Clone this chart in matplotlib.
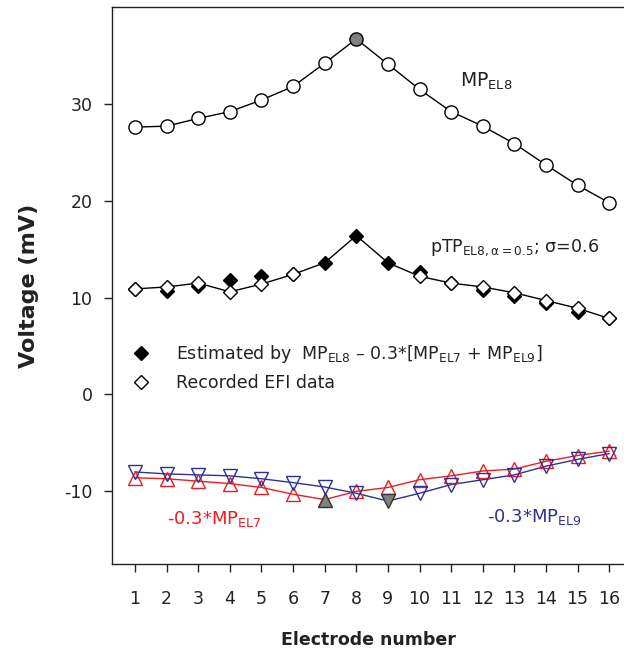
import matplotlib
matplotlib.use("Agg")
import matplotlib.pyplot as plt
import numpy as np

plt.rcParams['font.family'] = ['DejaVu Sans']
plt.rcParams['mathtext.fontset'] = 'dejavusans'
plt.rcParams['axes.unicode_minus'] = False

electrodes = list(range(1, 17))
mp_el8 = [27.6, 27.7, 28.5, 29.2, 30.4, 31.8, 34.2, 36.7, 34.1, 31.5, 29.2, 27.7, 25.9, 23.7, 21.6, 19.8]
estimated = [10.9, 10.7, 11.2, 11.8, 12.2, 12.4, 13.6, 16.4, 13.6, 12.6, 11.5, 10.8, 10.2, 9.4, 8.5, 7.85]
recorded = [10.9, 11.1, 11.5, 10.6, 11.4, 12.4, np.nan, np.nan, np.nan, 12.2, 11.5, 11.1, 10.5, 9.7, 8.9, 7.85]
mp_el7_scaled = [-8.6, -8.7, -8.95, -9.2, -9.6, -10.3, -10.85, -10.0, -9.6, -8.8, -8.4, -7.9, -7.7, -6.9, -6.3, -5.85]
mp_el9_scaled = [-8.0, -8.2, -8.3, -8.4, -8.7, -9.1, -9.55, -10.2, -11.0, -10.2, -9.3, -8.8, -8.3, -7.4, -6.7, -6.1]
yticks = [-10, 0, 10, 20, 30]

RED = '#ED1C24'
BLUE = '#2E3192'
GRAY = '#808080'
INK = '#222222'

fig = plt.figure(figsize=(6.24, 6.51), dpi=100)
ax = fig.add_axes([112/624, 87/651, 1 - 112/624, (564-7)/651])

x = np.array(electrodes)
rec = np.array(recorded)
est = np.array(estimated)
line_vals = np.where(np.isnan(rec), est, rec)

# MP EL8
ax.plot(x, mp_el8, '-', color='black', lw=1.0, zorder=2)
face8 = ['white'] * 16
face8[7] = GRAY
for xi, yi, fc in zip(x, mp_el8, face8):
    ax.plot(xi, yi, 'o', ms=9.5, mfc=fc, mec='black', mew=1.0, zorder=3)

# pTP
ax.plot(x, line_vals, '-', color='black', lw=1.0, zorder=2)
h_est, = ax.plot(x, est, 'D', ms=7, mfc='black', mec='black', mew=1.0, ls='none', zorder=3,
                 label=r'Estimated by  MP$_{\mathrm{EL8}}$ – 0.3$*$[MP$_{\mathrm{EL7}}$ + MP$_{\mathrm{EL9}}$]')
h_rec, = ax.plot(x, rec, 'D', ms=7, mfc='white', mec='black', mew=1.0, ls='none', zorder=4,
                 label='Recorded EFI data')

# -0.3 MP EL7 (red, up triangles)
ax.plot(x, mp_el7_scaled, '-', color=RED, lw=1.0, zorder=2)
for i, (xi, yi) in enumerate(zip(x, mp_el7_scaled)):
    if i == 6:
        ax.plot(xi, yi, '^', ms=10, mfc=GRAY, mec='#333333', mew=1.0, zorder=5)
    else:
        ax.plot(xi, yi, '^', ms=10, mfc='none', mec=RED, mew=1.0, zorder=3)

# -0.3 MP EL9 (blue, down triangles)
ax.plot(x, mp_el9_scaled, '-', color=BLUE, lw=1.0, zorder=2)
for i, (xi, yi) in enumerate(zip(x, mp_el9_scaled)):
    if i == 8:
        ax.plot(xi, yi, 'v', ms=10, mfc=GRAY, mec='#333333', mew=1.0, zorder=5)
    else:
        ax.plot(xi, yi, 'v', ms=10, mfc='none', mec=BLUE, mew=1.0, zorder=3)

ax.set_xlim(0.27, 16.47)
ax.set_ylim(-17.5, 40)
ax.set_xticks(electrodes)
ax.set_yticks(yticks)
ax.tick_params(axis='both', direction='out', length=6, width=1.0, labelsize=12.5, colors=INK)
ax.tick_params(axis='x', pad=13)
ax.tick_params(axis='y', pad=8)
ax.spines['right'].set_visible(False)
for s in ['left', 'top', 'bottom']:
    ax.spines[s].set_linewidth(1.0)
    ax.spines[s].set_color(INK)

ax.set_xlabel('Electrode number', fontsize=12.5, fontweight='bold', labelpad=16, color=INK)
ax.set_ylabel('Voltage (mV)', fontsize=16, fontweight='bold', labelpad=18, color=INK)

ax.text(460, 81, r'MP$_{\mathrm{EL8}}$', transform=None, fontsize=13.5, va='center', ha='left',
        color=INK)
ax.text(430, 248, r'pTP$_{\mathrm{EL8,\alpha=0.5}}$; σ=0.6', transform=None, fontsize=12.5,
        va='center', ha='left', color=INK)
ax.text(167, 519, r'-0.3$*$MP$_{\mathrm{EL7}}$', transform=None, fontsize=13, va='center', ha='left',
        color=RED)
ax.text(487, 517, r'-0.3$*$MP$_{\mathrm{EL9}}$', transform=None, fontsize=13, va='center', ha='left',
        color=BLUE)

# convert pixel (top-left origin) to display coords for transform=None texts
for t in ax.texts:
    px, py = t.get_position()
    t.set_position((px, 651 - py))

leg = ax.legend(handles=[h_est, h_rec], loc='upper left',
                bbox_to_anchor=(124/624, 1 - 334/651), bbox_transform=fig.transFigure,
                frameon=False, fontsize=12.5, handletextpad=1.5, labelspacing=0.55,
                borderpad=0, handlelength=1.0, labelcolor=INK)

fig.savefig('out.png', dpi=100)
